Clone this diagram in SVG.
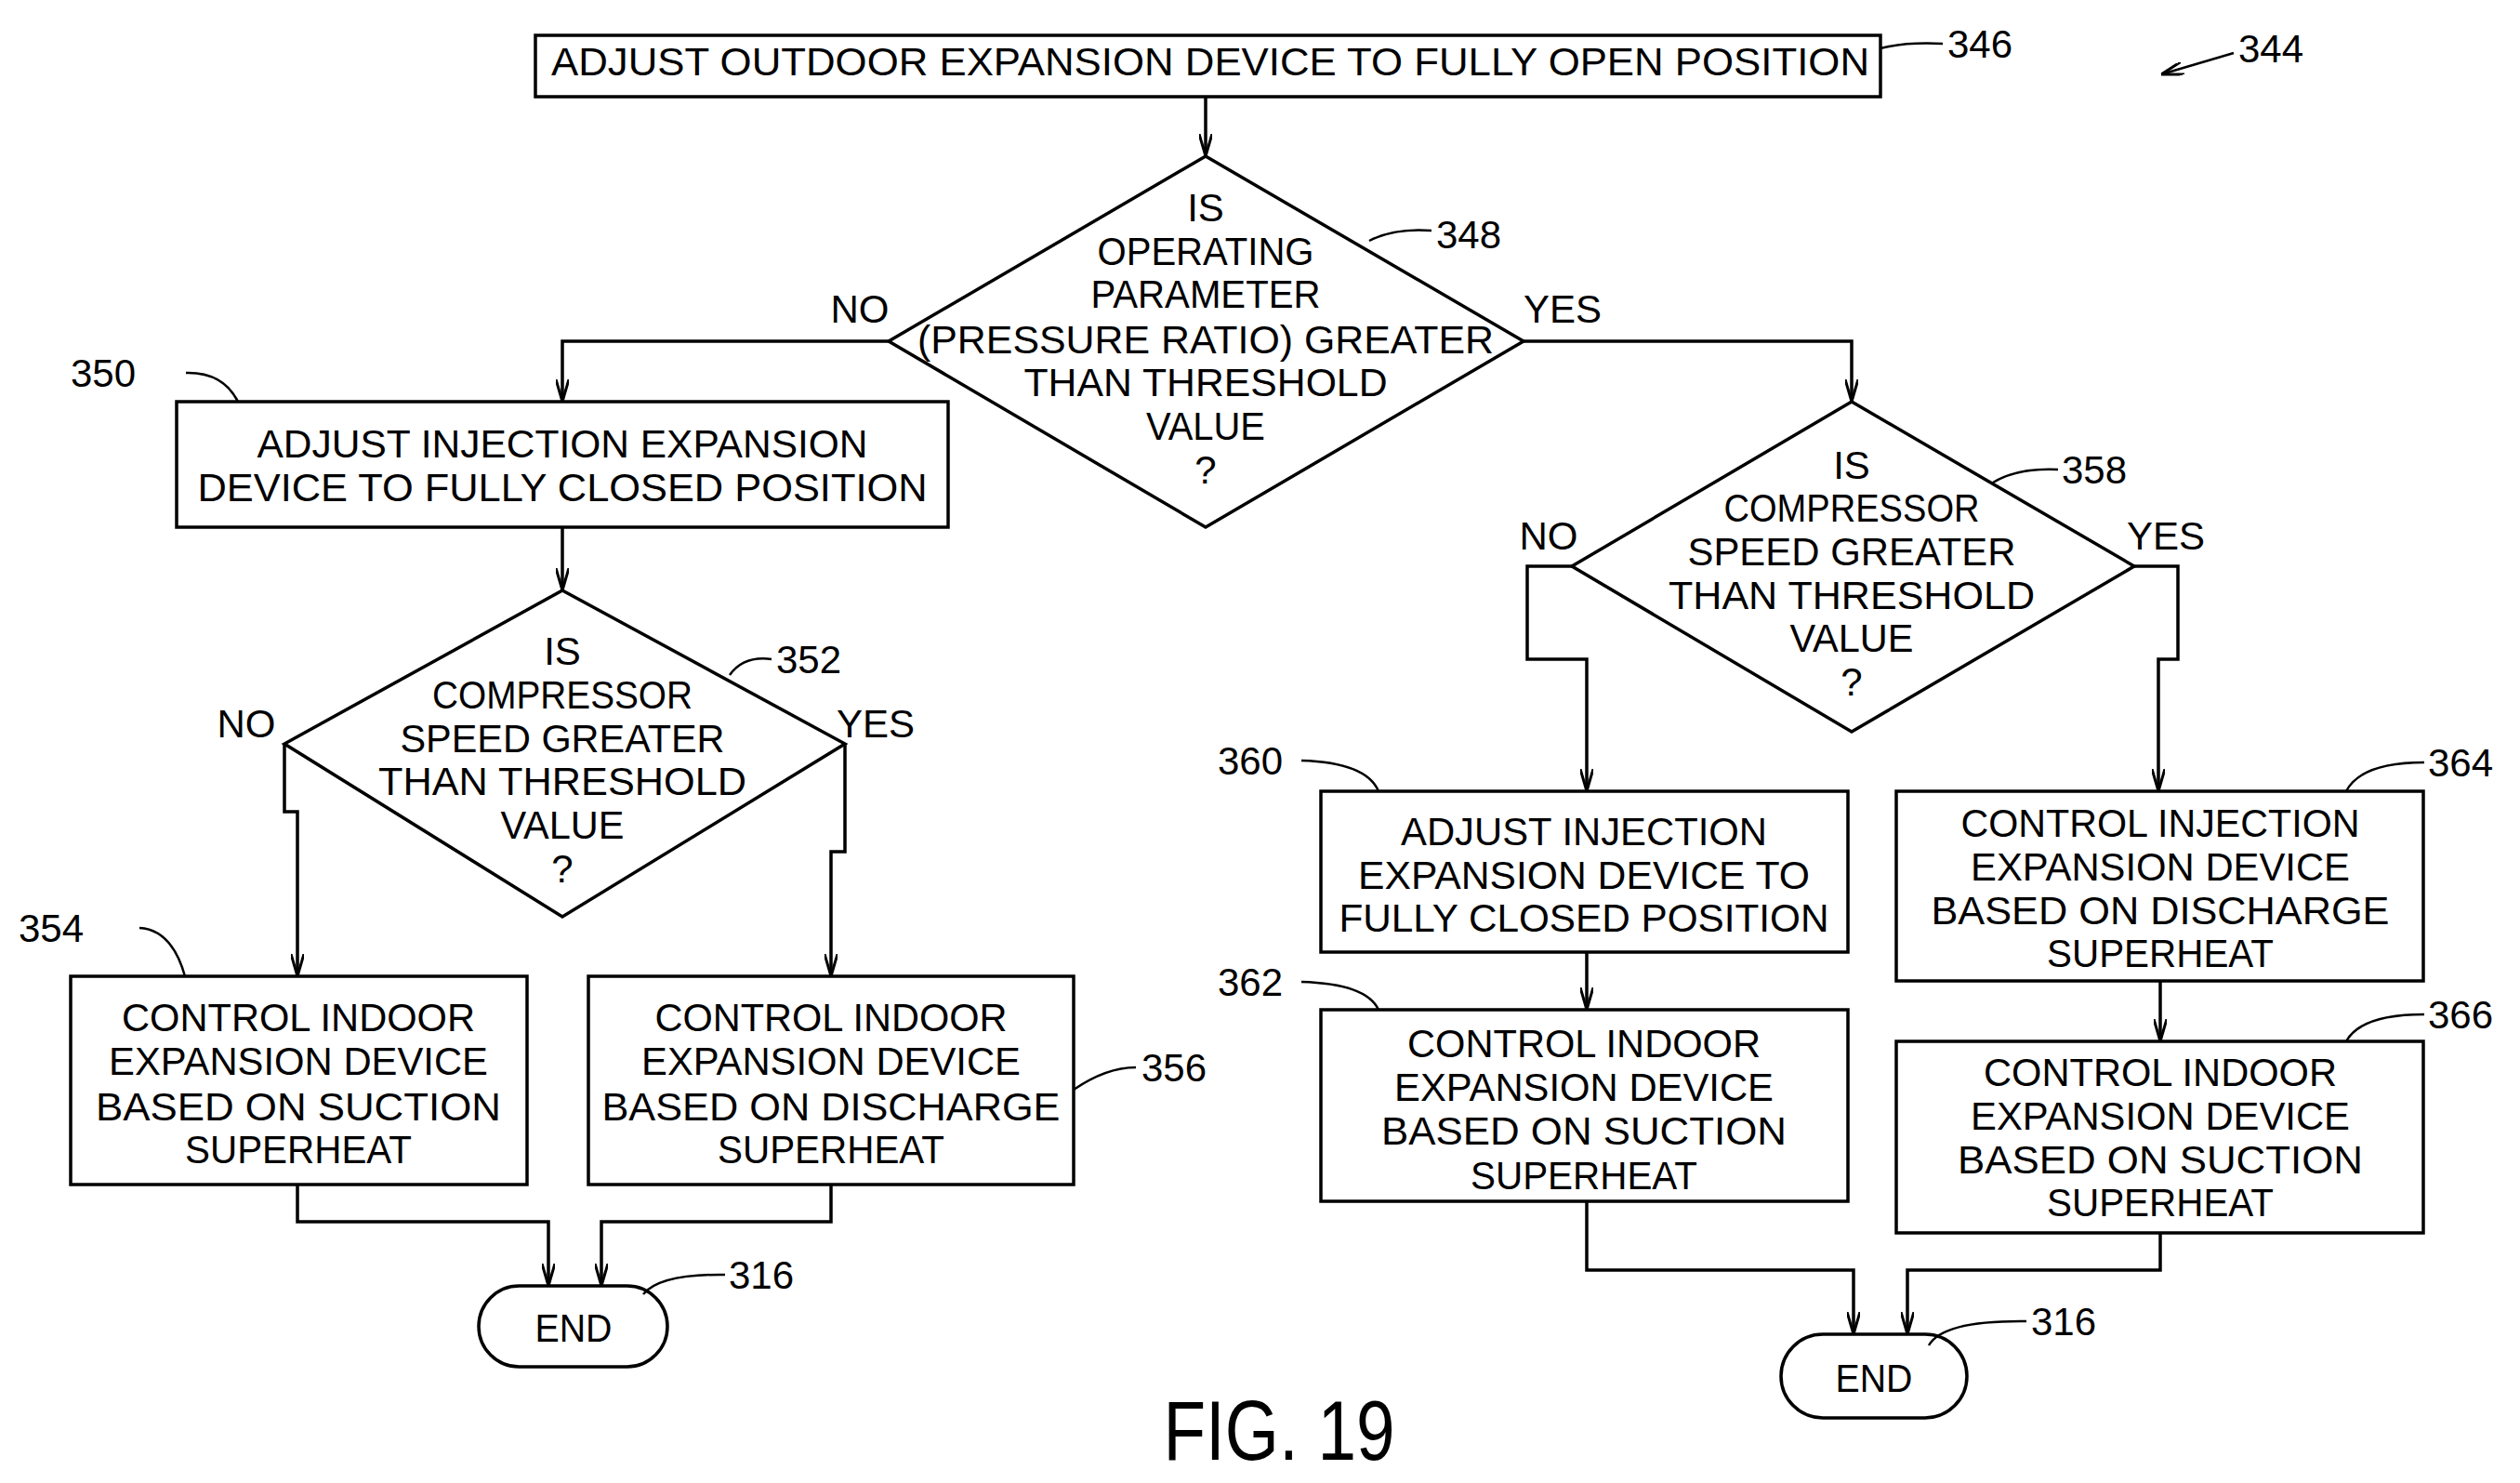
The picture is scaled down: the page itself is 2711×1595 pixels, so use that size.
<svg xmlns="http://www.w3.org/2000/svg" width="2711" height="1595" viewBox="0 0 2711 1595">
<style>
.s{fill:#fff;stroke:#000;stroke-width:3.5}
.c{fill:none;stroke:#000;stroke-width:3.5}
.l{fill:none;stroke:#000;stroke-width:2.5}
text{font-family:"Liberation Sans",Arial,sans-serif;font-size:42px;fill:#000;text-anchor:middle;dominant-baseline:central}
.n{text-anchor:start}
</style>
<defs><marker id="a" markerWidth="24" markerHeight="14" refX="24" refY="7" orient="auto" markerUnits="userSpaceOnUse" viewBox="0 0 24 14"><path d="M0,0 L24,7 L0,14" fill="none" stroke="#000" stroke-width="3"/></marker></defs>
<rect width="2711" height="1595" fill="#fff"/>
<g id="n346"><rect class="s" x="576" y="38" width="1447" height="66"/>
<text x="1302" y="66" textLength="1418" lengthAdjust="spacingAndGlyphs">ADJUST OUTDOOR EXPANSION DEVICE TO FULLY OPEN POSITION</text></g>
<g id="n348"><polygon class="s" points="1297,168 1639,367 1297,567 956,367"/>
<text x="1297" y="223">IS</text>
<text x="1297" y="270" textLength="233" lengthAdjust="spacingAndGlyphs">OPERATING</text>
<text x="1297" y="316" textLength="247" lengthAdjust="spacingAndGlyphs">PARAMETER</text>
<text x="1297" y="365" textLength="620" lengthAdjust="spacingAndGlyphs">(PRESSURE RATIO) GREATER</text>
<text x="1297" y="411" textLength="391" lengthAdjust="spacingAndGlyphs">THAN THRESHOLD</text>
<text x="1297" y="458" textLength="128" lengthAdjust="spacingAndGlyphs">VALUE</text>
<text x="1297" y="505">?</text></g>
<g id="n350"><rect class="s" x="190" y="432" width="830" height="135"/>
<text x="605" y="477" textLength="657" lengthAdjust="spacingAndGlyphs">ADJUST INJECTION EXPANSION</text>
<text x="605" y="524" textLength="785" lengthAdjust="spacingAndGlyphs">DEVICE TO FULLY CLOSED POSITION</text></g>
<g id="n352"><polygon class="s" points="605,635 909,800 605,986 306,800"/>
<text x="605" y="700">IS</text>
<text x="605" y="747" textLength="280" lengthAdjust="spacingAndGlyphs">COMPRESSOR</text>
<text x="605" y="794" textLength="349" lengthAdjust="spacingAndGlyphs">SPEED GREATER</text>
<text x="605" y="840" textLength="396" lengthAdjust="spacingAndGlyphs">THAN THRESHOLD</text>
<text x="605" y="887" textLength="133" lengthAdjust="spacingAndGlyphs">VALUE</text>
<text x="605" y="934">?</text></g>
<g id="n354"><rect class="s" x="76" y="1050" width="491" height="224"/>
<text x="321" y="1094" textLength="380" lengthAdjust="spacingAndGlyphs">CONTROL INDOOR</text>
<text x="321" y="1141" textLength="408" lengthAdjust="spacingAndGlyphs">EXPANSION DEVICE</text>
<text x="321" y="1190" textLength="436" lengthAdjust="spacingAndGlyphs">BASED ON SUCTION</text>
<text x="321" y="1236" textLength="244" lengthAdjust="spacingAndGlyphs">SUPERHEAT</text></g>
<g id="n356"><rect class="s" x="633" y="1050" width="522" height="224"/>
<text x="894" y="1094" textLength="379" lengthAdjust="spacingAndGlyphs">CONTROL INDOOR</text>
<text x="894" y="1141" textLength="408" lengthAdjust="spacingAndGlyphs">EXPANSION DEVICE</text>
<text x="894" y="1190" textLength="493" lengthAdjust="spacingAndGlyphs">BASED ON DISCHARGE</text>
<text x="894" y="1236" textLength="244" lengthAdjust="spacingAndGlyphs">SUPERHEAT</text></g>
<g id="end1"><rect class="s" x="515" y="1383" width="203" height="87" rx="43.5"/>
<text x="617" y="1428" textLength="83" lengthAdjust="spacingAndGlyphs">END</text></g>
<g id="n358"><polygon class="s" points="1992,432 2296,609 1992,787 1691,609"/>
<text x="1992" y="500">IS</text>
<text x="1992" y="546" textLength="275" lengthAdjust="spacingAndGlyphs">COMPRESSOR</text>
<text x="1992" y="593" textLength="353" lengthAdjust="spacingAndGlyphs">SPEED GREATER</text>
<text x="1992" y="640" textLength="394" lengthAdjust="spacingAndGlyphs">THAN THRESHOLD</text>
<text x="1992" y="686" textLength="133" lengthAdjust="spacingAndGlyphs">VALUE</text>
<text x="1992" y="733">?</text></g>
<g id="n360"><rect class="s" x="1421" y="851" width="567" height="173"/>
<text x="1704" y="894" textLength="394" lengthAdjust="spacingAndGlyphs">ADJUST INJECTION</text>
<text x="1704" y="941" textLength="486" lengthAdjust="spacingAndGlyphs">EXPANSION DEVICE TO</text>
<text x="1704" y="987" textLength="527" lengthAdjust="spacingAndGlyphs">FULLY CLOSED POSITION</text></g>
<g id="n362"><rect class="s" x="1421" y="1086" width="567" height="206"/>
<text x="1704" y="1122" textLength="380" lengthAdjust="spacingAndGlyphs">CONTROL INDOOR</text>
<text x="1704" y="1169" textLength="408" lengthAdjust="spacingAndGlyphs">EXPANSION DEVICE</text>
<text x="1704" y="1216" textLength="436" lengthAdjust="spacingAndGlyphs">BASED ON SUCTION</text>
<text x="1704" y="1264" textLength="244" lengthAdjust="spacingAndGlyphs">SUPERHEAT</text></g>
<g id="n364"><rect class="s" x="2040" y="851" width="567" height="204"/>
<text x="2324" y="885" textLength="429" lengthAdjust="spacingAndGlyphs">CONTROL INJECTION</text>
<text x="2324" y="932" textLength="408" lengthAdjust="spacingAndGlyphs">EXPANSION DEVICE</text>
<text x="2324" y="979" textLength="493" lengthAdjust="spacingAndGlyphs">BASED ON DISCHARGE</text>
<text x="2324" y="1025" textLength="244" lengthAdjust="spacingAndGlyphs">SUPERHEAT</text></g>
<g id="n366"><rect class="s" x="2040" y="1120" width="567" height="206"/>
<text x="2324" y="1153" textLength="380" lengthAdjust="spacingAndGlyphs">CONTROL INDOOR</text>
<text x="2324" y="1200" textLength="408" lengthAdjust="spacingAndGlyphs">EXPANSION DEVICE</text>
<text x="2324" y="1247" textLength="436" lengthAdjust="spacingAndGlyphs">BASED ON SUCTION</text>
<text x="2324" y="1293" textLength="244" lengthAdjust="spacingAndGlyphs">SUPERHEAT</text></g>
<g id="end2"><rect class="s" x="1916" y="1435" width="200" height="90" rx="45"/>
<text x="2016" y="1482" textLength="83" lengthAdjust="spacingAndGlyphs">END</text></g>
<g id="connectors">
<path class="c" d="M1297,104 V168" marker-end="url(#a)"/>
<path class="c" d="M956,367 H605 V432" marker-end="url(#a)"/>
<path class="c" d="M1639,367 H1992 V432" marker-end="url(#a)"/>
<path class="c" d="M605,567 V635" marker-end="url(#a)"/>
<path class="c" d="M306,800 V873 H320 V1050" marker-end="url(#a)"/>
<path class="c" d="M909,800 V916 H894 V1050" marker-end="url(#a)"/>
<path class="c" d="M320,1274 V1314 H590 V1383" marker-end="url(#a)"/>
<path class="c" d="M894,1274 V1314 H647 V1383" marker-end="url(#a)"/>
<path class="c" d="M1691,609 H1643 V709 H1707 V851" marker-end="url(#a)"/>
<path class="c" d="M2296,609 H2343 V709 H2322 V851" marker-end="url(#a)"/>
<path class="c" d="M1707,1024 V1086" marker-end="url(#a)"/>
<path class="c" d="M2324,1055 V1120" marker-end="url(#a)"/>
<path class="c" d="M1707,1292 V1366 H1994 V1435" marker-end="url(#a)"/>
<path class="c" d="M2324,1326 V1366 H2052 V1435" marker-end="url(#a)"/>
<path class="l" d="M2023,52 Q2050,45 2090,47"/>
<path class="l" d="M1473,259 Q1500,245 1540,248"/>
<path class="l" d="M256,432 Q240,400 200,401"/>
<path class="l" d="M785,726 Q800,705 830,709"/>
<path class="l" d="M199,1050 Q185,1000 150,998"/>
<path class="l" d="M1155,1172 Q1190,1148 1222,1148"/>
<path class="l" d="M692,1392 Q710,1370 780,1371"/>
<path class="l" d="M2144,519 Q2170,503 2214,505"/>
<path class="l" d="M1483,851 Q1470,820 1400,818"/>
<path class="l" d="M1483,1086 Q1470,1058 1400,1056"/>
<path class="l" d="M2524,851 Q2540,820 2608,820"/>
<path class="l" d="M2524,1120 Q2540,1091 2608,1091"/>
<path class="l" d="M2075,1447 Q2090,1420 2180,1421"/>
<path class="l" d="M2403,57 L2325,80" marker-end="url(#a)"/>
</g>
<g id="labels">
<text class="n" x="2095" y="47">346</text>
<text class="n" x="2408" y="52">344</text>
<text class="n" x="1545" y="252">348</text>
<text x="925" y="332">NO</text>
<text x="1681" y="332">YES</text>
<text class="n" x="76" y="401">350</text>
<text class="n" x="835" y="709">352</text>
<text x="265" y="778">NO</text>
<text x="942" y="778">YES</text>
<text class="n" x="20" y="998">354</text>
<text class="n" x="1228" y="1148">356</text>
<text class="n" x="784" y="1371">316</text>
<text class="n" x="2218" y="505">358</text>
<text x="1666" y="576">NO</text>
<text x="2330" y="576">YES</text>
<text class="n" x="1310" y="818">360</text>
<text class="n" x="1310" y="1056">362</text>
<text class="n" x="2612" y="820">364</text>
<text class="n" x="2612" y="1091">366</text>
<text class="n" x="2185" y="1421">316</text>
<text x="1376" y="1539" style="font-size:90px" textLength="249" lengthAdjust="spacingAndGlyphs">FIG. 19</text>
</g>
</svg>
